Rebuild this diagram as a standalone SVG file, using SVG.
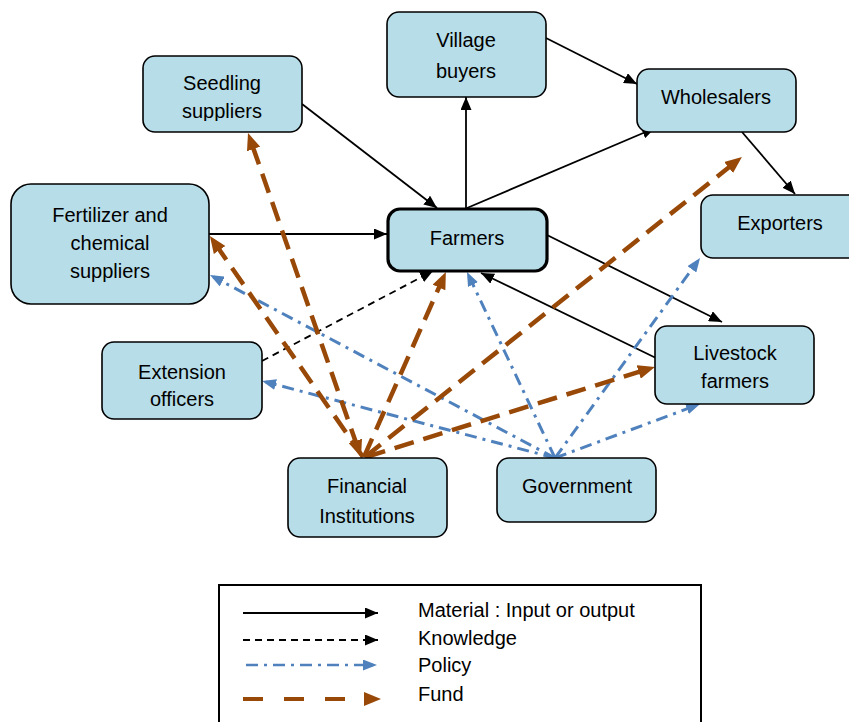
<svg xmlns="http://www.w3.org/2000/svg" width="849" height="722" viewBox="0 0 849 722">
  <style>
    .box { fill: #b7dde8; stroke: #000; stroke-width: 1.6; }
    .hub { fill: #b7dde8; stroke: #000; stroke-width: 3.2; }
    .lbl { font-family: "Liberation Sans", Arial, sans-serif; font-size: 20px; fill: #000; text-anchor: middle; }
    .leg { font-family: "Liberation Sans", Arial, sans-serif; font-size: 20px; fill: #000; }
    .material { fill: none; stroke: #000; stroke-width: 1.8; marker-end: url(#arrBlack); }
    .knowledge { fill: none; stroke: #000; stroke-width: 1.8; stroke-dasharray: 7 5; marker-end: url(#arrBlack); }
    .policy { fill: none; stroke: #4f81bd; stroke-width: 3; stroke-dasharray: 12 6 3 6; marker-end: url(#arrBlue); }
    .fund { fill: none; stroke: #984807; stroke-width: 4.5; stroke-dasharray: 20 10; marker-end: url(#arrBrown); }
  </style>
  <defs>
    <marker id="arrBlack" markerUnits="userSpaceOnUse" markerWidth="13" markerHeight="11" refX="13" refY="5.5" orient="auto">
      <path d="M0,0 L13,5.5 L0,11 z" fill="#000"/>
    </marker>
    <marker id="arrBlue" markerUnits="userSpaceOnUse" markerWidth="14" markerHeight="11" refX="10" refY="5.5" orient="auto">
      <path d="M0,0 L14,5.5 L0,11 z" fill="#4f81bd"/>
    </marker>
    <marker id="arrBrown" markerUnits="userSpaceOnUse" markerWidth="17" markerHeight="14" refX="7" refY="7" orient="auto-start-reverse">
      <path d="M0,0 L17,7 L0,14 z" fill="#984807"/>
    </marker>
    <clipPath id="seedClip">
      <rect x="140" y="55" width="165" height="66"/>
    </clipPath>
  </defs>

  <rect width="849" height="722" fill="#fff"/>

  <!-- connectors -->
  <g id="connectors">
    <!-- material flows -->
    <path class="material" d="M302,104 L437,208"/>
    <path class="material" d="M209,234 L387,234"/>
    <path class="material" d="M466,209 L466,97"/>
    <path class="material" d="M546,38 L637,84"/>
    <path class="material" d="M467,208 L655,128"/>
    <path class="material" d="M742,132 L795,194"/>
    <path class="material" d="M547,235 L722,322"/>
    <path class="material" d="M656,358 L481,273"/>
    <!-- knowledge -->
    <path class="knowledge" d="M262,361 L433,271"/>
    <!-- policy from government -->
    <path class="policy" d="M555,458 L213.5,276.9"/>
    <path class="policy" d="M555,458 L265.9,382"/>
    <path class="policy" d="M555,458 L468.7,275.6"/>
    <path class="policy" d="M555,458 L697.7,261.2"/>
    <path class="policy" d="M555,458 L696.3,405.4"/>
    <!-- funds from financial institutions -->
    <path class="fund" d="M357.7,447.6 L251.3,142.4" marker-start="url(#arrBrown)"/>
    <path class="fund" d="M363,457 L215.6,244.3"/>
    <path class="fund" d="M364,457 L441.8,281.1"/>
    <path class="fund" d="M366,457 L645.4,369.9"/>
    <path class="fund" d="M365,457 L734.1,163.2"/>
  </g>

  <!-- nodes -->
  <g id="seedling">
    <rect class="box" x="143" y="56" width="159" height="76" rx="12"/>
    <g clip-path="url(#seedClip)">
      <text class="lbl" x="222" y="90">Seedling</text>
      <text class="lbl" x="222" y="118">suppliers</text>
    </g>
  </g>
  <g id="village">
    <rect class="box" x="387" y="12" width="159" height="85" rx="12"/>
    <text class="lbl" x="466" y="47">Village</text>
    <text class="lbl" x="466" y="78">buyers</text>
  </g>
  <g id="wholesalers">
    <rect class="box" x="637" y="69" width="159" height="63" rx="12"/>
    <text class="lbl" x="716" y="104">Wholesalers</text>
  </g>
  <g id="fertilizer">
    <rect class="box" x="11" y="184" width="198" height="120" rx="20"/>
    <text class="lbl" x="110" y="222">Fertilizer and</text>
    <text class="lbl" x="110" y="250">chemical</text>
    <text class="lbl" x="110" y="278">suppliers</text>
  </g>
  <g id="farmers">
    <rect class="hub" x="388" y="209" width="159" height="62" rx="12"/>
    <text class="lbl" x="467" y="245">Farmers</text>
  </g>
  <g id="exporters">
    <rect class="box" x="701" y="195" width="160" height="63" rx="12"/>
    <text class="lbl" x="780" y="230">Exporters</text>
  </g>
  <g id="extension">
    <rect class="box" x="102" y="342" width="160" height="77" rx="12"/>
    <text class="lbl" x="182" y="379">Extension</text>
    <text class="lbl" x="182" y="406">officers</text>
  </g>
  <g id="livestock">
    <rect class="box" x="655" y="326" width="159" height="78" rx="12"/>
    <text class="lbl" x="735" y="360">Livestock</text>
    <text class="lbl" x="735" y="388">farmers</text>
  </g>
  <g id="financial">
    <rect class="box" x="288" y="458" width="159" height="79" rx="12"/>
    <text class="lbl" x="367" y="493">Financial</text>
    <text class="lbl" x="367" y="523">Institutions</text>
  </g>
  <g id="government">
    <rect class="box" x="497" y="458" width="159" height="64" rx="12"/>
    <text class="lbl" x="577" y="493">Government</text>
  </g>

  <!-- legend -->
  <g id="legend">
    <rect x="219" y="585" width="482" height="150" fill="#fff" stroke="#000" stroke-width="2"/>
    <path class="material" d="M243,613 L378,613"/>
    <path class="knowledge" d="M243,640 L378,640"/>
    <path fill="none" stroke="#4f81bd" stroke-width="2.5" stroke-dasharray="12 6 3 6" d="M246,665 L373,665" marker-end="url(#arrBlue)"/>
    <path fill="none" stroke="#984807" stroke-width="4" stroke-dasharray="20 21" d="M243,699 L371,699" marker-end="url(#arrBrown)"/>
    <text class="leg" x="418" y="617">Material : Input or output</text>
    <text class="leg" x="418" y="645">Knowledge</text>
    <text class="leg" x="418" y="672">Policy</text>
    <text class="leg" x="418" y="701">Fund</text>
  </g>
</svg>
